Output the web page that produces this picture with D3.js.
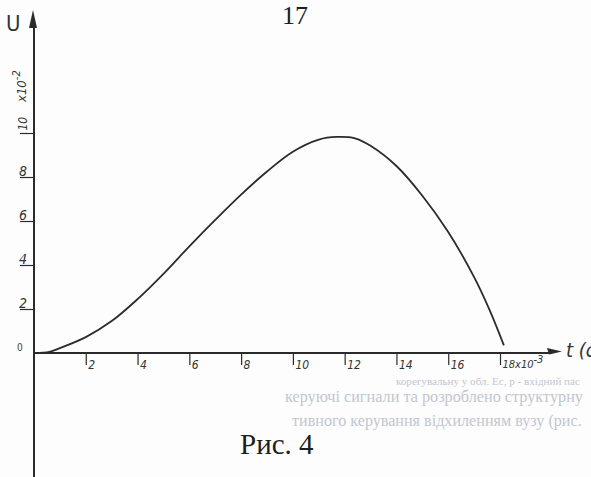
<!DOCTYPE html>
<html>
<head>
<meta charset="utf-8">
<script src="https://cdn.jsdelivr.net/npm/d3@7"></script>
<style>
  body { margin: 0; background: #fdfdfd; }
  svg { display: block; }
</style>
</head>
<body>
<svg id="chart"></svg>
<script>
// Hand-drawn curve U(t)
const width = 591, height = 477;
const ink = "#2b2b2b";

// t in 10^-3 s, U in 10^-2
const tValues = [0, 0.6, 1, 2, 3, 4, 5, 6, 7, 8, 9, 10, 11, 11.7, 12.4, 13, 14, 15, 16, 17, 17.6, 18.15];
const uValues = [0, 0.05, 0.22, 0.72, 1.45, 2.45, 3.6, 4.85, 6.05, 7.2, 8.25, 9.15, 9.7, 9.82, 9.76, 9.42, 8.5, 7.15, 5.5, 3.45, 1.95, 0.35];

const xTicks = [2, 4, 6, 8, 10, 12, 14, 16, 18];
const xTickLabels = ["2", "4", "6", "8", "10", "12", "14", "16", "18x10"];
const yTicks = [2, 4, 6, 8, 10];
const yTickLabels = ["2", "4", "6", "8", "10"];

// faint text showing through from the next page
const ghostLines = [
    "корегувальну у обл. Ес, р - вхідний пас",
    "керуючі сигнали та розроблено структурну",
    "тивного керування відхиленням вузу (рис."
];

const svg = d3.select("#chart")
    .attr("width", width)
    .attr("height", height);

svg.append("rect")
    .attr("width", width)
    .attr("height", height)
    .attr("fill", "#fdfdfd");

const x = d3.scaleLinear().domain([0, 18]).range([34, 500]);
const y = d3.scaleLinear().domain([0, 10]).range([353, 133]);

const handFont = "'DejaVu Sans Condensed', 'DejaVu Sans', sans-serif";
const serif = "'Liberation Serif', 'DejaVu Serif', serif";

// ghost lines first so everything else sits on top; font size is fitted to the width
const ghostX = [396, 285, 292], ghostY = [385, 402, 426], ghostLen = [184, 298, 290];
svg.append("g").selectAll("text")
    .data(ghostLines)
    .enter()
    .append("text")
    .attr("x", (d, i) => ghostX[i])
    .attr("y", (d, i) => ghostY[i])
    .attr("fill", "#c2c6d0")
    .style("font-family", serif)
    .style("font-size", "20px")
    .text(d => d)
    .each(function(d, i) {
        const w = this.getComputedTextLength();
        d3.select(this).style("font-size", (20 * ghostLen[i] / w).toFixed(2) + "px");
    });

// page number
svg.append("text")
    .attr("x", 282).attr("y", 24)
    .attr("fill", "#1e1e1e")
    .style("font-family", serif)
    .style("font-size", "26px")
    .text("17");

// caption
svg.append("text")
    .attr("x", 240).attr("y", 454)
    .attr("fill", "#1e1e1e")
    .style("font-family", serif)
    .style("font-size", "29px")
    .text("Рис. 4");

// x axis
const xAxis = svg.append("g")
    .attr("transform", `translate(0,${y(0)})`)
    .call(d3.axisBottom(x).tickValues(xTicks).tickSize(12).tickFormat((d, i) => xTickLabels[i]));
xAxis.select(".domain").remove();
xAxis.selectAll("line").attr("stroke", ink).attr("stroke-width", 1.2);
xAxis.selectAll("text")
    .attr("text-anchor", "start")
    .attr("x", 2)
    .attr("y", 7)
    .attr("dy", "0.71em")
    .attr("fill", "#333")
    .style("font-family", handFont)
    .style("font-style", "oblique")
    .style("font-size", "12px");
xAxis.selectAll("text").filter(d => d === 18)
    .style("font-size", "11px")
    .append("tspan")
    .attr("dy", -5)
    .style("font-size", "11px")
    .text("-3");

svg.append("line")
    .attr("x1", x(0) - 1).attr("x2", 552)
    .attr("y1", y(0)).attr("y2", y(0))
    .attr("stroke", ink).attr("stroke-width", 2);
svg.append("path")
    .attr("d", `M562,${y(0) - 1.5} L547,${y(0) - 5} L549,${y(0) + 1.5} Z`)
    .attr("fill", ink);

svg.append("text")
    .attr("x", 566).attr("y", 357)
    .attr("fill", "#333")
    .style("font-family", handFont)
    .style("font-style", "oblique")
    .style("font-size", "20px")
    .text("t (c)");

// y axis
const yAxis = svg.append("g")
    .attr("transform", `translate(${x(0)},0)`)
    .call(d3.axisLeft(y).tickValues(yTicks).tickSize(14).tickFormat((d, i) => yTickLabels[i]));
yAxis.select(".domain").remove();
yAxis.selectAll("line").attr("stroke", ink).attr("stroke-width", 1.2);
yAxis.selectAll("text")
    .attr("text-anchor", "start")
    .attr("x", -15)
    .attr("y", -2)
    .attr("dy", 0)
    .attr("fill", "#333")
    .style("font-family", handFont)
    .style("font-style", "oblique")
    .style("font-size", "14px");
// the top label is written sideways
yAxis.selectAll("text").filter(d => d === 10)
    .attr("transform", "rotate(-90)")
    .attr("x", 3)
    .attr("y", -7)
    .style("font-size", "12px");

const yUnit = yAxis.append("text")
    .attr("transform", "rotate(-90)")
    .attr("text-anchor", "start")
    .attr("x", -102)
    .attr("y", -8)
    .attr("fill", "#333")
    .style("font-family", handFont)
    .style("font-style", "oblique")
    .style("font-size", "13px")
    .text("x10");
yUnit.append("tspan").attr("dy", -6).style("font-size", "11px").text("-2");

svg.append("text")
    .attr("x", 17).attr("y", 351)
    .attr("fill", "#444")
    .style("font-family", handFont)
    .style("font-size", "10px")
    .text("0");

svg.append("line")
    .attr("x1", x(0)).attr("x2", x(0))
    .attr("y1", 24).attr("y2", height)
    .attr("stroke", ink).attr("stroke-width", 2);
svg.append("path")
    .attr("d", `M${x(0) - 1},10 L${x(0) - 5},28 L${x(0) + 3},28 Z`)
    .attr("fill", ink);

svg.append("text")
    .attr("x", 6).attr("y", 31)
    .attr("fill", "#333")
    .style("font-family", handFont)
    .style("font-size", "22px")
    .text("U");

// the curve
const points = tValues.map((t, i) => [t, uValues[i]]);
const line = d3.line()
    .x(d => x(d[0]))
    .y(d => y(d[1]))
    .curve(d3.curveCatmullRom.alpha(0.5));

svg.append("path")
    .datum(points)
    .attr("d", line)
    .attr("fill", "none")
    .attr("stroke", ink)
    .attr("stroke-width", 1.8);
</script>
</body>
</html>
